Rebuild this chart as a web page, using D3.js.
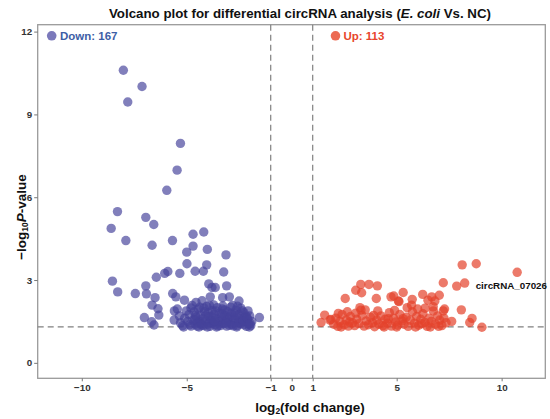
<!DOCTYPE html>
<html><head><meta charset="utf-8">
<script src="https://cdn.jsdelivr.net/npm/d3@7"></script>
<style>body{margin:0;background:#fff}svg{display:block;font-family:"Liberation Sans",Arial,sans-serif}</style>
</head><body><svg id="c" width="550" height="419"></svg>
<script>
const downPoints = [
[-8.02,10.6],[-7.13,10.01],[-7.81,9.45],[-5.30,7.95],[-5.46,6.98],[-5.95,6.25],[-8.30,5.48],[-6.95,5.27],[-8.60,4.87],[-6.57,5.01],
[-7.90,4.43],[-6.65,4.26],[-5.68,4.43],[-4.70,4.66],[-4.19,4.74],[-4.70,4.23],[-5.00,4.01],[-4.02,4.11],[-3.13,3.91],[-4.99,3.59],
[-4.05,3.55],[-4.60,3.32],[-4.21,3.32],[-3.24,3.29],[-5.33,3.24],[-5.90,3.31],[-6.05,3.24],[-6.45,3.10],[-8.54,2.96],[-8.29,2.57],
[-7.45,2.51],[-6.95,2.79],[-6.92,2.50],[-6.51,2.36],[-6.65,2.09],[-6.37,1.96],[-7.02,1.64],[-6.67,1.49],[-6.56,1.37],[-6.33,1.73],
[-3.95,2.86],[-3.80,2.73],[-3.64,2.73],[-3.10,2.79],[-5.67,2.51],[-5.52,2.39],[-5.11,2.27],[-4.56,2.19],[-4.27,2.25],[-3.88,2.39],
[-3.29,2.36],[-2.97,2.39],[-5.59,1.88],[-4.80,1.99],[-2.51,2.24],[-1.54,1.64],
[-5.3,1.45],[-5.1,1.62],[-5.2,1.35],[-4.95,1.50],[-4.9,1.75],[-4.85,1.38],[-4.7,1.55],[-4.65,1.85],[-4.6,1.40],[-4.55,1.65],
[-4.5,1.33],[-4.45,1.95],[-4.4,1.50],[-4.35,1.72],[-4.3,1.42],[-4.25,1.60],[-4.2,1.35],[-4.15,1.85],[-4.1,1.52],[-4.05,2.05],
[-4.0,1.40],[-3.95,1.68],[-3.9,1.32],[-3.85,1.55],[-3.8,1.90],[-3.75,1.45],[-3.7,1.75],[-3.65,1.38],[-3.6,1.60],[-3.55,2.00],
[-3.5,1.48],[-3.45,1.80],[-3.4,1.35],[-3.35,1.65],[-3.3,1.95],[-3.25,1.42],[-3.2,1.72],[-3.15,1.55],[-3.1,1.33],[-3.05,1.85],
[-3.0,1.48],[-2.95,1.68],[-2.9,2.02],[-2.85,1.38],[-2.8,1.58],[-2.75,1.80],[-2.7,1.45],[-2.65,1.92],[-2.6,1.35],[-2.55,1.62],
[-2.5,1.75],[-2.45,1.42],[-2.4,1.55],[-2.35,1.88],[-2.3,1.38],[-2.25,1.65],[-2.2,1.48],[-2.15,1.32],[-2.1,1.58],[-2.05,1.40],
[-2.0,1.70],[-1.95,1.35],[-1.9,1.50],
[-5.45,1.95],[-5.35,1.70],[-4.75,2.08],[-4.8,1.33],[-4.38,2.02],[-3.98,1.82],[-3.72,2.10],[-3.62,1.88],[-3.42,1.50],[-3.28,2.06],
[-3.18,1.92],[-2.98,1.36],[-2.88,1.80],[-2.72,1.60],[-2.58,2.05],[-2.42,1.98],[-2.28,1.82],[-2.18,1.70],[-2.08,1.88],[-3.82,1.64],
[-4.12,1.70],[-4.48,1.46],[-5.02,1.88],[-4.28,1.36],[-3.52,1.34],[-2.78,1.34],[-2.52,1.46],[-2.32,1.52],[-3.08,1.62],[-3.88,1.46],
[-4.62,1.56],
[-5.6,1.55],[-5.15,1.30],[-4.42,1.30],[-3.58,1.30],[-2.62,1.30],[-2.02,1.30],[-3.92,2.08],[-2.82,2.08],[-4.18,1.98],[-3.32,1.78],
[-2.68,1.72],[-2.12,1.62],[-3.12,1.44],[-3.68,1.52],[-4.58,1.72],[-4.02,1.30],[-1.98,1.42]
];
const upPoints = [
[8.12,3.55],[8.79,3.59],[10.74,3.28],[7.22,2.90],[7.86,2.78],[8.24,2.89],[3.29,2.84],[3.68,2.84],[4.08,2.79],[3.05,2.63],
[3.33,2.54],[2.55,2.33],[4.03,2.33],[4.86,2.42],[5.31,2.55],[5.11,2.22],[5.74,2.30],[6.24,2.48],[6.67,2.39],[7.03,2.45],
[6.82,2.24],[6.49,2.27],[3.25,2.00],[3.30,1.91],[7.28,1.95],[8.08,1.92],[1.57,1.73],[2.22,1.79],[1.40,1.46],[1.87,1.57],
[8.59,1.61],[8.48,1.46],[7.62,1.50],[9.06,1.29],
[2.0,1.40],[2.1,1.62],[2.2,1.32],[2.3,1.50],[2.4,1.75],[2.5,1.38],[2.6,1.55],[2.7,1.33],[2.8,1.68],[2.9,1.45],
[3.0,1.35],[3.1,1.58],[3.2,1.42],[3.35,1.72],[3.45,1.33],[3.55,1.52],[3.65,1.38],[3.75,1.65],[3.85,1.45],[3.95,1.31],
[4.05,1.55],[4.15,1.40],[4.25,1.70],[4.35,1.35],[4.45,1.58],[4.55,1.44],[4.65,1.82],[4.75,1.33],[4.85,1.62],[4.95,1.48],
[5.05,1.36],[5.15,1.75],[5.25,1.52],[5.35,1.40],[5.45,1.65],[5.55,1.32],[5.65,1.55],[5.75,1.85],[5.85,1.44],[5.95,1.68],
[6.05,1.36],[6.15,1.58],[6.25,1.78],[6.35,1.46],[6.45,1.32],[6.55,1.62],[6.65,1.50],[6.75,1.88],[6.85,1.40],[6.95,1.70],
[7.05,1.55],[7.15,1.35],[7.25,1.62],[7.35,1.45],
[1.82,1.55],[4.73,2.39],[5.08,2.24],[5.71,2.09],[6.35,1.98],[6.74,2.03],[7.22,1.88],[2.35,1.30],[3.05,1.80],[3.5,1.92],
[4.1,1.88],[4.9,1.90],[5.5,2.00],[6.0,1.95],[2.65,1.85],[3.9,1.72],[4.4,1.30],[5.0,1.30],[5.9,1.30],[6.6,1.30],
[7.0,1.32],[2.75,1.48],[5.3,1.60],[6.2,1.42],[4.6,1.60]
];
const xTicks = [-10,-5,-1,0,1,5,10];
const xTickLabels = ["\u221210","\u22125","\u22121","0","1","5","10"];
const yTicks = [0,3,6,9,12];
const fcCutoffs = [-1,1];
const pCutoff = 1.301;
const legendItems = [{label:"Down: 167"},{label:"Up: 113"}];
const annotation = {name:"circRNA_07026", point:[10.74,3.28]};

const svg = d3.select("#c");
const L=37.7,R=545.3,T=24.7,B=378.3;
const x = d3.scaleLinear().domain([-12.1,12.08]).range([L,R]);
const y = d3.scaleLinear().domain([-0.56,12.25]).range([B,T]);
const downFill="#45439b", upFill="#e4412b";

// title
const title = svg.append("text").attr("x",300).attr("y",18).attr("text-anchor","middle")
  .attr("font-size",13.3).attr("font-weight","bold").attr("fill","#111");
title.append("tspan").text("Volcano plot for differential circRNA analysis (");
title.append("tspan").attr("font-style","italic").text("E. coli");
title.append("tspan").text(" Vs. NC)");

// frame
svg.append("rect").attr("x",L).attr("y",T).attr("width",R-L).attr("height",B-T)
  .attr("fill","none").attr("stroke","#9a9a9a").attr("stroke-width",1.3);

// axes
const ax = svg.append("g").attr("transform",`translate(0,${B})`)
  .call(d3.axisBottom(x).tickValues(xTicks).tickFormat((d,i)=>xTickLabels[i]).tickSize(3).tickPadding(3));
const ay = svg.append("g").attr("transform",`translate(${L},0)`)
  .call(d3.axisLeft(y).tickValues(yTicks).tickSize(3.5).tickPadding(2));
[ax,ay].forEach(g=>{
  g.select(".domain").remove();
  g.selectAll(".tick line").attr("stroke","#777");
  g.selectAll(".tick text").attr("font-size",9.8).attr("font-weight","bold").attr("fill","#333")
    .attr("font-family","'Liberation Sans',Arial,sans-serif");
});

// cutoff lines
svg.selectAll("line.vc").data(fcCutoffs).join("line").attr("class","vc")
  .attr("x1",d=>x(d)).attr("x2",d=>x(d)).attr("y1",T).attr("y2",B)
  .attr("stroke","#808080").attr("stroke-width",1.2).attr("stroke-dasharray","6,4");
svg.append("line").attr("x1",L).attr("x2",R).attr("y1",y(pCutoff)).attr("y2",y(pCutoff))
  .attr("stroke","#808080").attr("stroke-width",1.2).attr("stroke-dasharray","6,4");

// points
const r=4.7;
svg.append("g").selectAll("circle").data(downPoints).join("circle")
  .attr("cx",d=>x(d[0])).attr("cy",d=>y(d[1])).attr("r",r)
  .attr("fill",downFill).attr("fill-opacity",0.68);
svg.append("g").selectAll("circle").data(upPoints).join("circle")
  .attr("cx",d=>x(d[0])).attr("cy",d=>y(d[1])).attr("r",r)
  .attr("fill",upFill).attr("fill-opacity",0.7);

// legend
const lg = [{cx:51.7,tx:60,fill:"#7b79bb",color:"#3d5ea6"},{cx:335.5,tx:343.5,fill:"#ec6a52",color:"#e8452c"}];
legendItems.forEach((it,i)=>{
  svg.append("circle").attr("cx",lg[i].cx).attr("cy",35.8).attr("r",4.8).attr("fill",lg[i].fill);
  svg.append("text").attr("x",lg[i].tx).attr("y",40).attr("font-size",11.5).attr("font-weight","bold")
    .attr("fill",lg[i].color).text(it.label);
});

// annotation
svg.append("text").attr("x",x(annotation.point[0])-41.5).attr("y",y(annotation.point[1])+17)
  .attr("font-size",9.8).attr("font-weight","bold").attr("fill","#111").text(annotation.name);

// axis titles
const xl = svg.append("text").attr("x",310).attr("y",412).attr("text-anchor","middle")
  .attr("font-size",13.5).attr("font-weight","bold").attr("fill","#111");
xl.append("tspan").text("log");
xl.append("tspan").attr("font-size",8.5).attr("dy",2).text("2");
xl.append("tspan").attr("dy",-2).text("(fold change)");

const yl = svg.append("text").attr("transform","translate(26,217) rotate(-90)").attr("text-anchor","middle")
  .attr("font-size",13.5).attr("font-weight","bold").attr("fill","#111");
yl.append("tspan").text("\u2212log");
yl.append("tspan").attr("font-size",8.5).attr("dy",2).text("10");
yl.append("tspan").attr("dy",-2).attr("font-style","italic").text("P");
yl.append("tspan").text("-value");
</script></body></html>
